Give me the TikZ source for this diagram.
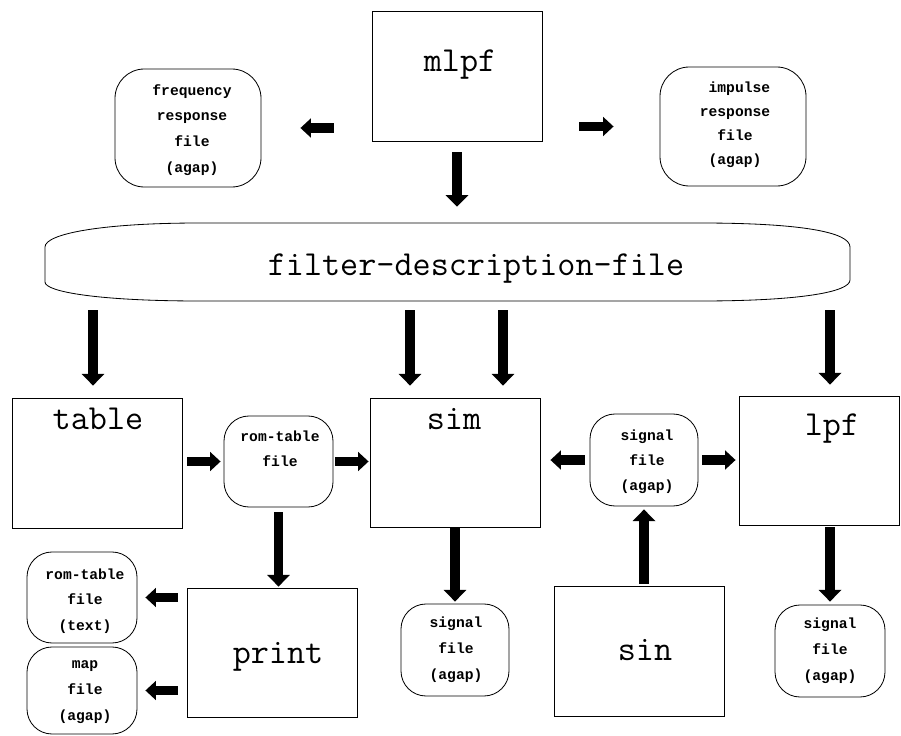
\documentclass[tikz,border=0pt]{standalone}
\usepackage{fontspec}
\newfontfamily\smallmono{Liberation Mono}
\usetikzlibrary{arrows.meta,fit,calc}
\begin{document}
\begin{tikzpicture}[x=0.03cm,y=-0.03cm,
  sq/.style={draw,line width=0.7pt,inner sep=0pt},
  rd/.style={draw,line width=0.7pt,inner sep=0pt,rounded corners=0.75cm},
  rdbig/.style={rd,rounded corners=0.88cm},
  big/.style={font=\fontsize{30}{36}\selectfont\ttfamily,anchor=base,inner sep=0pt},
  sm/.style={font=\fontsize{12.5}{22}\selectfont\smallmono\bfseries,align=center,inner sep=0pt},
  fat/.style={line width=8.5pt,-{Triangle[width=19pt,length=10pt]}},
  short/.style={line width=8pt,-{Triangle[width=16pt,length=9pt]}},
]
\useasboundingbox (0,0) rectangle (901,736);

% rectangular process boxes
\node[sq,fit={(372,11)(542,141)}] (mlpf) {};
\node[big] (mlpfT) at (460,72) {mlpf};
\node[sq,fit={(12,398)(182,528)}] (table) {};
\node[big] (tableT) at (98,429) {table};
\node[sq,fit={(370,398)(540,527)}] (sim) {};
\node[big] (simT) at (454,429) {sim};
\node[sq,fit={(739,396)(899,525)}] (lpf) {};
\node[big] (lpfT) at (832,435) {lpf};
\node[sq,fit={(187,588)(357,717)}] (print) {};
\node[big] (printT) at (278,663) {print};
\node[sq,fit={(554,586)(724,716)}] (sin) {};
\node[big] (sinT) at (645,660) {sin};

% filter description file
\node[inner sep=0pt,fit={(45,223)(850,301)}] (fdf) {};
\draw[line width=0.7pt] (200,223) -- (700,223) .. controls (800,223) and (850,232) .. (850,247)
  -- (850,280) .. controls (850,292) and (800,301) .. (700,301) -- (200,301)
  .. controls (100,301) and (45,292) .. (45,282) -- (45,247)
  .. controls (45,234) and (100,223) .. (200,223) -- cycle;
\node[big] (fdfT) at (476,275) {filter-description-file};

% rounded file boxes
\node[rdbig,fit={(115,69)(261,187)}] (freq) {};
\node[sm] (freqT) at (192,130) {frequency\\response\\file\\(agap)};
\node[rdbig,fit={(660,67)(806,186)}] (imp) {};
\node[sm,font=\fontsize{12.5}{20.5}\selectfont\smallmono\bfseries] (impT) at (735,125) {~impulse\\response\\file\\(agap)};
\node[rd,fit={(224,416)(333,507)}] (rom) {};
\node[sm,font=\fontsize{12.5}{21}\selectfont\smallmono\bfseries] (romT) at (280,449) {rom-table\\file};
\node[rd,fit={(590,414)(698,506)}] (sigmid) {};
\node[sm,font=\fontsize{12.5}{21.5}\selectfont\smallmono\bfseries] (sigmidT) at (647,462) {signal\\file\\(agap)};
\node[rd,fit={(27,552)(137,643)}] (romtxt) {};
\node[sm] (romtxtT) at (85,601) {rom-table\\file\\(text)};
\node[rd,fit={(27,647)(137,734)}] (map) {};
\node[sm] (mapT) at (85,692) {map\\file\\(agap)};
\node[rd,fit={(401,604)(509,696)}] (sigA) {};
\node[sm] (sigAT) at (456,650) {signal\\file\\(agap)};
\node[rd,fit={(775,605)(885,697)}] (sigB) {};
\node[sm] (sigBT) at (830,651) {signal\\file\\(agap)};

% connectors
\draw[short,shorten <=1.14cm,shorten >=1.17cm] (freq.east -| mlpf.west) -- (freq.east);
\draw[short,shorten <=1.11cm,shorten >=1.38cm] (imp.west -| mlpf.east) -- (imp.west);
\draw[fat,shorten <=0.33cm,shorten >=0.48cm] (mlpf.south) -- (mlpf.south |- fdf.north);
\draw[fat,shorten <=0.27cm,shorten >=0.36cm] ($(fdf.south -| table.north)+(-4,0)$) -- ($(table.north)+(-4,0)$);
\draw[fat,shorten <=0.27cm,shorten >=0.36cm] ($(fdf.south -| sim.north)+(-45,0)$) -- ($(sim.north)+(-45,0)$);
\draw[fat,shorten <=0.27cm,shorten >=0.36cm] ($(fdf.south -| sim.north)+(48,0)$) -- ($(sim.north)+(48,0)$);
\draw[fat,shorten <=0.27cm,shorten >=0.33cm] ($(fdf.south -| lpf.north)+(11,0)$) -- ($(lpf.north)+(11,0)$);
\draw[short,shorten <=0.15cm,shorten >=0.09cm] (rom.west -| table.east) -- (rom.west);
\draw[short,shorten <=0.06cm,shorten >=0.03cm] (rom.east) -- (rom.east -| sim.west);
\draw[short,shorten <=0.15cm,shorten >=0.3cm] (sigmid.west) -- (sigmid.west -| sim.east);
\draw[short,shorten <=0.12cm,shorten >=0.09cm] (sigmid.east) -- (sigmid.east -| lpf.west);
\draw[fat,shorten <=0.15cm,shorten >=0.03cm] (rom.south) -- (rom.south |- print.north);
\draw[short,shorten <=0.27cm,shorten >=0.24cm] (romtxt.east -| print.west) -- (romtxt.east);
\draw[short,shorten <=0.27cm,shorten >=0.24cm] (map.east -| print.west) -- (map.east);
\draw[fat,shorten <=0cm,shorten >=0.06cm] (sigA.north |- sim.south) -- (sigA.north);
\draw[fat,shorten <=0.06cm,shorten >=0.09cm] (sigmid.south |- sin.north) -- (sigmid.south);
\draw[fat,shorten <=0.06cm,shorten >=0.09cm] (sigB.north |- lpf.south) -- (sigB.north);
\end{tikzpicture}
\end{document}
